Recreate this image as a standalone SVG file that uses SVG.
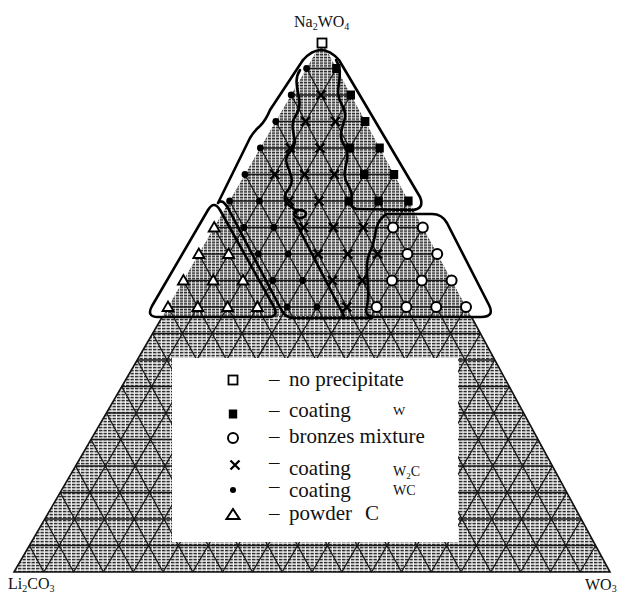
<svg xmlns="http://www.w3.org/2000/svg" width="622" height="595" viewBox="0 0 622 595">
<style>
.grid{fill:none;stroke:#1a1a1a;stroke-width:1.3}
.edge{fill:none;stroke:#111;stroke-width:1.6}
.ol{fill:none;stroke:#000;stroke-width:2.6;stroke-linecap:round;stroke-linejoin:round}
.lg{font-family:"Liberation Serif","Times New Roman",serif;font-size:21px;fill:#111}
.lb{font-family:"Liberation Serif","Times New Roman",serif;font-size:16px;fill:#111}
.sub{font-size:10px}
</style>
<defs>
<pattern id="lo" width="4.5" height="3" patternUnits="userSpaceOnUse"><rect width="4.5" height="3" fill="#f4f4f4"/><rect x="0" y="0.8" width="3.4" height="1.6" fill="#2e2e2e"/></pattern>
<pattern id="hi" width="4" height="2.8" patternUnits="userSpaceOnUse"><rect width="4" height="2.8" fill="#eee"/><rect x="0" y="0.7" width="3.1" height="1.6" fill="#222"/></pattern>
<g id="sq"><rect x="-4.5" y="-4.5" width="9" height="9" fill="#fff" stroke="#000" stroke-width="1.8"/></g>
<g id="fsq"><rect x="-4.2" y="-4.5" width="8.4" height="9" fill="#000"/></g>
<g id="ci"><circle r="5" fill="#fff" stroke="#000" stroke-width="2"/></g>
<g id="x"><path d="M-4.5 -4.5L4.5 4.5M4.5 -4.5L-4.5 4.5" stroke="#000" stroke-width="2.3"/></g>
<g id="dot"><circle r="3.4" fill="#000"/></g>
<g id="tri"><polygon points="0,-5.5 5.5,4 -5.5,4" fill="#fff" stroke="#000" stroke-width="1.8"/></g>
</defs>

<g id="field">
<polygon points="322,42 14,572 610,572" fill="url(#lo)"/>
<polygon points="322,42 162.8,316 470.9,316" fill="url(#hi)"/>
<path class="grid" d="M306.6 68.5H336.4M291.2 95H350.8M275.8 121.5H365.2M260.4 148H379.6M245 174.5H394M229.6 201H408.4M214.2 227.5H422.8M198.8 254H437.2M183.4 280.5H451.6M168 307H466M152.6 333.5H480.4M137.2 360H494.8M121.8 386.5H509.2M106.4 413H523.6M91 439.5H538M75.6 466H552.4M60.2 492.5H566.8M44.8 519H581.2M29.4 545.5H595.6
M306.6 68.5L580.2 572M291.2 95L550.4 572M275.8 121.5L520.6 572M260.4 148L490.8 572M245 174.5L461 572M229.6 201L431.2 572M214.2 227.5L401.4 572M198.8 254L371.6 572M183.4 280.5L341.8 572M168 307L312 572M152.6 333.5L282.2 572M137.2 360L252.4 572M121.8 386.5L222.6 572M106.4 413L192.8 572M91 439.5L163 572M75.6 466L133.2 572M60.2 492.5L103.4 572M44.8 519L73.6 572M29.4 545.5L43.8 572
M336.4 68.5L43.8 572M350.8 95L73.6 572M365.2 121.5L103.4 572M379.6 148L133.2 572M394 174.5L163 572M408.4 201L192.8 572M422.8 227.5L222.6 572M437.2 254L252.4 572M451.6 280.5L282.2 572M466 307L312 572M480.4 333.5L341.8 572M494.8 360L371.6 572M509.2 386.5L401.4 572M523.6 413L431.2 572M538 439.5L461 572M552.4 466L490.8 572M566.8 492.5L520.6 572M581.2 519L550.4 572M595.6 545.5L580.2 572"/>
<path class="edge" d="M162.2 317L14 572L610 572L471.5 317"/>
</g>

<g id="markers">
<use href="#sq" x="322" y="43"/>
<use href="#dot" x="306.6" y="68.5"/><use href="#fsq" x="336.4" y="68.5"/>
<use href="#dot" x="291.2" y="95"/><use href="#x" x="321" y="95"/><use href="#fsq" x="350.8" y="95"/>
<use href="#dot" x="275.8" y="121.5"/><use href="#x" x="305.6" y="121.5"/><use href="#x" x="335.4" y="121.5"/><use href="#fsq" x="365.2" y="121.5"/>
<use href="#dot" x="260.4" y="148"/><use href="#x" x="290.2" y="148"/><use href="#x" x="320" y="148"/><use href="#fsq" x="349.8" y="148"/><use href="#fsq" x="379.6" y="148"/>
<use href="#dot" x="245" y="174.5"/><use href="#x" x="274.8" y="174.5"/><use href="#x" x="304.6" y="174.5"/><use href="#x" x="334.4" y="174.5"/><use href="#fsq" x="364.2" y="174.5"/><use href="#fsq" x="394" y="174.5"/>
<use href="#dot" x="229.6" y="201"/><use href="#dot" x="259.4" y="201"/><use href="#x" x="289.2" y="201"/><use href="#x" x="319" y="201"/><use href="#fsq" x="348.8" y="201"/><use href="#fsq" x="378.6" y="201"/><use href="#fsq" x="408.4" y="201"/>
<use href="#tri" x="214.2" y="227.5"/><use href="#dot" x="244" y="227.5"/><use href="#dot" x="273.8" y="227.5"/><use href="#x" x="303.6" y="227.5"/><use href="#x" x="333.4" y="227.5"/><use href="#x" x="363.2" y="227.5"/><use href="#ci" x="393" y="227.5"/><use href="#ci" x="422.8" y="227.5"/>
<use href="#tri" x="198.8" y="254"/><use href="#tri" x="228.6" y="254"/><use href="#dot" x="258.4" y="254"/><use href="#dot" x="288.2" y="254"/><use href="#x" x="318" y="254"/><use href="#x" x="347.8" y="254"/><use href="#x" x="377.6" y="254"/><use href="#ci" x="407.4" y="254"/><use href="#ci" x="437.2" y="254"/>
<use href="#tri" x="183.4" y="280.5"/><use href="#tri" x="213.2" y="280.5"/><use href="#tri" x="243" y="280.5"/><use href="#dot" x="272.8" y="280.5"/><use href="#dot" x="302.6" y="280.5"/><use href="#x" x="332.4" y="280.5"/><use href="#x" x="362.2" y="280.5"/><use href="#ci" x="392" y="280.5"/><use href="#ci" x="421.8" y="280.5"/><use href="#ci" x="451.6" y="280.5"/>
<use href="#tri" x="168" y="307"/><use href="#tri" x="197.8" y="307"/><use href="#tri" x="227.6" y="307"/><use href="#tri" x="257.4" y="307"/><use href="#dot" x="287.2" y="307"/><use href="#dot" x="317" y="307"/><use href="#x" x="346.8" y="307"/><use href="#ci" x="376.6" y="307"/><use href="#ci" x="406.4" y="307"/><use href="#ci" x="436.2" y="307"/><use href="#ci" x="466" y="307"/>
</g>

<g id="outlines">
<path class="ol" d="M303 60Q321 40 339 60L420 197Q425 209 412 210L356 209"/>
<path class="ol" d="M303 60L270 110Q266 120 260 126Q254 131 250 138L218 203Q222 198 228 208L282 311Q286 318 294 318L372 318"/>
<path class="ol" d="M208 210L152 306Q146 317 158 317L268 317Q279 317 274 307L220 210Q214 200 208 210Z"/>
<path class="ol" d="M386 214L432 214Q442 214 447 223L489 305Q495 317 481 317L374 317Q364 317 367 306C372 285 362 270 370 252C378 236 372 225 386 214Z"/>
<path class="ol" d="M336 60C346 75 332 90 342 105S334 130 344 145S338 170 348 185S345 205 356 209"/>
<path class="ol" d="M300 70C290 85 306 100 296 115S302 140 290 152S300 175 288 190S300 208 296 213"/>
<ellipse class="ol" cx="300" cy="214" rx="6" ry="4"/>
<path class="ol" d="M294 219L344 316"/>
</g>

<g id="legend">
<rect x="172" y="358" width="286" height="184" fill="#fff"/>
<use href="#sq" x="233" y="380"/>
<use href="#fsq" x="233" y="414"/>
<use href="#ci" x="233" y="438"/>
<use href="#x" x="235" y="465"/>
<circle cx="233" cy="490" r="3" fill="#000"/>
<polygon points="233,509 239.5,519 226.5,519" fill="#fff" stroke="#000" stroke-width="2"/>
<text class="lg" x="269" y="386">–</text><text class="lg" x="289" y="386">no precipitate</text>
<text class="lg" x="269" y="417">–</text><text class="lg" x="289" y="417">coating</text><text class="lg" x="393" y="415" style="font-size:13px">W</text>
<text class="lg" x="269" y="443">–</text><text class="lg" x="289" y="443">bronzes mixture</text>
<text class="lg" x="269" y="469">–</text><text class="lg" x="289" y="475">coating</text><text class="lg" x="393" y="476" style="font-size:14px">W<tspan style="font-size:9px" dy="3">2</tspan><tspan dy="-3">C</tspan></text>
<text class="lg" x="269" y="493">–</text><text class="lg" x="289" y="497">coating</text><text class="lg" x="393" y="495" style="font-size:14px">WC</text>
<text class="lg" x="269" y="520">–</text><text class="lg" x="289" y="520">powder</text><text class="lg" x="365" y="520">C</text>
</g>

<g id="labels">
<text class="lb" x="294" y="27">Na<tspan class="sub" dy="3">2</tspan><tspan dy="-3">WO</tspan><tspan class="sub" dy="3">4</tspan></text>
<text class="lb" x="8" y="589">Li<tspan class="sub" dy="3">2</tspan><tspan dy="-3">CO</tspan><tspan class="sub" dy="3">3</tspan></text>
<text class="lb" x="585" y="590">WO<tspan class="sub" dy="2">3</tspan></text>
</g>
</svg>
